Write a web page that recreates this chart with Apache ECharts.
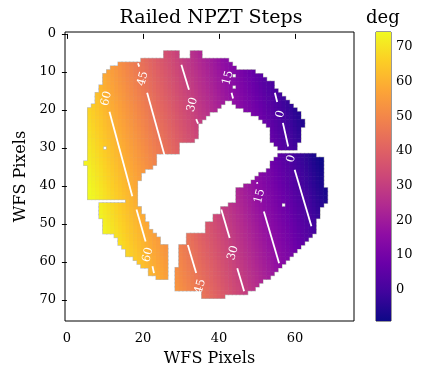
<!DOCTYPE html>
<html>
<head>
<meta charset="utf-8">
<script src="https://cdn.jsdelivr.net/npm/echarts@6/dist/echarts.min.js"></script>
<style>
  html, body { margin: 0; padding: 0; background: #fff; }
  #chart { width: 422px; height: 370px; }
</style>
</head>
<body>
<div id="chart"></div>
<script>
// valid pixels of the WFS mask: [row, firstCol, lastCol]
var maskRuns = [
  [5, 26, 29], [5, 33, 35],
  [6, 26, 29], [6, 33, 35],
  [7, 20, 42], [8, 14, 43], [9, 12, 44], [10, 11, 49],
  [11, 10, 51], [12, 10, 52], [13, 10, 54], [14, 9, 54],
  [15, 9, 55], [16, 8, 56], [17, 8, 57],
  [18, 8, 41], [18, 44, 58],
  [19, 7, 40], [19, 45, 59],
  [20, 6, 39], [20, 47, 60],
  [21, 6, 37], [21, 49, 61],
  [22, 6, 36], [22, 51, 61],
  [23, 6, 35], [23, 52, 62],
  [24, 6, 34], [24, 53, 62],
  [25, 6, 34], [25, 54, 61],
  [26, 6, 34], [26, 54, 61],
  [27, 6, 34], [27, 54, 61],
  [28, 6, 33], [28, 54, 61],
  [29, 6, 29], [29, 55, 60],
  [30, 6, 29], [30, 56, 60],
  [31, 6, 29],
  [32, 6, 23], [32, 56, 65],
  [33, 6, 23], [33, 55, 67],
  [34, 5, 23], [34, 54, 67],
  [35, 6, 22], [35, 54, 67],
  [36, 6, 20], [36, 53, 67],
  [37, 6, 19], [37, 51, 67],
  [38, 6, 19], [38, 50, 67],
  [39, 6, 18], [39, 49, 67],
  [40, 6, 18], [40, 47, 67],
  [41, 6, 18], [41, 45, 68],
  [42, 6, 18], [42, 45, 68],
  [43, 6, 18], [43, 45, 68],
  [44, 16, 18], [44, 45, 68],
  [45, 9, 18], [45, 43, 67],
  [46, 9, 19], [46, 41, 66],
  [47, 9, 19], [47, 41, 66],
  [48, 9, 20], [48, 39, 66],
  [49, 10, 20], [49, 39, 65],
  [50, 10, 21], [50, 37, 65],
  [51, 10, 21], [51, 37, 65],
  [52, 10, 22], [52, 37, 65],
  [53, 13, 23], [53, 32, 64],
  [54, 14, 24], [54, 32, 63],
  [55, 14, 24], [55, 32, 62],
  [56, 15, 26], [56, 30, 61],
  [57, 16, 26], [57, 30, 60],
  [58, 16, 26], [58, 30, 59],
  [59, 18, 26], [59, 30, 58],
  [60, 19, 26], [60, 30, 57],
  [61, 20, 26], [61, 30, 56],
  [62, 22, 26], [62, 29, 55],
  [63, 22, 26], [63, 29, 54],
  [64, 24, 26], [64, 29, 53],
  [65, 29, 51], [66, 29, 50], [67, 29, 49],
  [68, 36, 47], [69, 36, 41]
];
// dead pixels inside the mask: [col, row]
var maskHoles = [[44, 11], [44, 14], [10, 30], [57, 45]];

// step value (deg) along the top row, per column
var colValues = [
  67.6, 66.3, 65.0, 63.7, 62.3, 61.0, 59.7, 58.4, 57.1, 55.8,
  54.4, 53.1, 51.8, 50.5, 49.2, 47.9, 46.5, 45.2, 43.9, 42.6,
  41.3, 40.0, 38.6, 37.3, 36.0, 34.7, 33.4, 32.1, 30.8, 29.4,
  28.1, 26.8, 25.5, 24.2, 22.9, 21.5, 20.2, 18.9, 17.6, 16.3,
  15.0, 13.6, 12.3, 11.0, 9.7, 8.4, 7.1, 5.7, 4.4, 3.1,
  1.8, 0.5, -0.8, -2.1, -3.5, -4.8, -6.1, -7.4, -8.7, -10.0,
  -11.4, -12.7, -14.0, -15.3, -16.6, -17.9, -19.3, -20.6, -21.9
];
// extra step (deg) per row
var rowOffsets = [
  0.0, 0.4, 0.7, 1.1, 1.4, 1.8, 2.1, 2.5, 2.8, 3.2,
  3.6, 3.9, 4.3, 4.6, 5.0, 5.3, 5.7, 6.1, 6.4, 6.8,
  7.1, 7.5, 7.8, 8.2, 8.5, 8.9, 9.3, 9.6, 10.0, 10.3,
  10.7, 11.0, 11.4, 11.7, 12.1, 12.5, 12.8, 13.2, 13.5, 13.9,
  14.2, 14.6, 15.0, 15.3, 15.7, 16.0, 16.4, 16.7, 17.1, 17.4,
  17.8, 18.2, 18.5, 18.9, 19.2, 19.6, 19.9, 20.3, 20.6, 21.0,
  21.4, 21.7, 22.1, 22.4, 22.8, 23.1, 23.5, 23.9, 24.2, 24.6
];

// contour pieces [x1, y1, x2, y2] (pixels) and inline labels [x, y, level]
var contourSegments = [
  [11.2, 20.5, 17.2, 42.7], [18.3, 46.2, 20.7, 54.6], [22.5, 61.1, 22.9, 62.9],
  [18.7, 7.7, 19.0, 8.6], [21.1, 15.5, 26.0, 33.1], [31.8, 55.5, 34.0, 62.9],
  [30.1, 8.1, 32.1, 14.7], [34.0, 22.4, 34.5, 23.6], [40.6, 46.2, 42.8, 53.7], [44.8, 61.6, 46.6, 67.7],
  [43.3, 15.5, 43.7, 17.0], [50.0, 39.0, 50.1, 39.4], [51.8, 46.7, 55.8, 60.3],
  [54.7, 15.5, 55.3, 17.9], [56.8, 23.4, 58.2, 29.6], [59.9, 35.7, 64.3, 50.6]
];
var contourLabels = [
  [10.4, 17.0, 60], [21.3, 58.1, 60],
  [20.0, 11.8, 45], [35.1, 66.4, 45],
  [33.0, 18.6, 30], [43.7, 57.6, 30],
  [42.4, 11.6, 15], [50.7, 42.7, 15],
  [56.2, 21.1, 0], [59.0, 32.8, 0]
];

var xTicks = [0, 20, 40, 60];
var yTicks = [0, 10, 20, 30, 40, 50, 60, 70];
var cbarTicks = [0, 10, 20, 30, 40, 50, 60, 70];
var cbarRange = [-9, 74.3];

var plasma = ['#0d0887', '#41049d', '#6a00a8', '#8f0da4', '#b12a90', '#cc4778',
              '#e16462', '#f2844b', '#fca636', '#fcce25', '#f0f921'];

var FONT = 'DejaVu Serif';

var holeKey = {};
maskHoles.forEach(function (h) { holeKey[h[0] + ',' + h[1]] = true; });
var cells = [];
maskRuns.forEach(function (run) {
    for (var c = run[1]; c <= run[2]; c++) {
        if (holeKey[c + ',' + run[0]]) continue;
        cells.push([c, run[0], +(colValues[c] + rowOffsets[run[0]]).toFixed(2)]);
    }
});

function cellRect(api, pad) {
    var c = api.value(0), r = api.value(1);
    var p0 = api.coord([c - 0.5, r - 0.5]);
    var p1 = api.coord([c + 0.5, r + 0.5]);
    return {
        x: Math.min(p0[0], p1[0]) - pad,
        y: Math.min(p0[1], p1[1]) - pad,
        width: Math.abs(p1[0] - p0[0]) + 2 * pad,
        height: Math.abs(p1[1] - p0[1]) + 2 * pad
    };
}

var myChart = echarts.init(document.getElementById('chart'));

var option = {
    animation: false,
    backgroundColor: '#fff',
    textStyle: { fontFamily: FONT, color: '#000' },
    title: [
        { text: 'Railed NPZT Steps', left: 'center', top: 4,
          textStyle: { fontFamily: FONT, fontSize: 19, fontWeight: 'normal', color: '#000' } },
        { text: 'deg', left: 361, top: 4,
          textStyle: { fontFamily: FONT, fontSize: 18, fontWeight: 'normal', color: '#000' } }
    ],
    grid: [
        { left: 65, top: 32, width: 289, height: 289, show: true, borderColor: '#000', borderWidth: 1,
          outerBoundsMode: 'none' },
        { left: 376, top: 32, width: 15, height: 289, show: true, borderColor: '#000', borderWidth: 0.8,
          outerBoundsMode: 'none' }
    ],
    xAxis: [
        {
            gridIndex: 0, type: 'value', min: -0.5, max: 75.5,
            name: 'WFS Pixels', nameLocation: 'middle', nameGap: 30,
            nameTextStyle: { fontFamily: FONT, fontSize: 16, color: '#000' },
            axisLine: { show: false },
            axisTick: { show: true, length: 5, customValues: xTicks, lineStyle: { color: '#000' } },
            axisLabel: { customValues: xTicks, fontFamily: FONT, fontSize: 13, color: '#000', margin: 11 },
            splitLine: { show: false }
        },
        { gridIndex: 1, type: 'value', min: 0, max: 1, show: false }
    ],
    yAxis: [
        {
            gridIndex: 0, type: 'value', min: -0.5, max: 75.5, inverse: true,
            name: 'WFS Pixels', nameLocation: 'middle', nameGap: 36,
            nameTextStyle: { fontFamily: FONT, fontSize: 16, color: '#000' },
            axisLine: { show: false },
            axisTick: { show: true, length: 5, customValues: yTicks, lineStyle: { color: '#000' } },
            axisLabel: { customValues: yTicks, fontFamily: FONT, fontSize: 13, color: '#000', margin: 9 },
            splitLine: { show: false }
        },
        {
            gridIndex: 1, type: 'value', position: 'right', min: cbarRange[0], max: cbarRange[1],
            axisLine: { show: false },
            axisTick: { show: true, length: 4, customValues: cbarTicks, lineStyle: { color: '#000' } },
            axisLabel: { customValues: cbarTicks, fontFamily: FONT, fontSize: 13, color: '#000', margin: 5 },
            splitLine: { show: false }
        }
    ],
    visualMap: {
        type: 'continuous', show: false, seriesIndex: 1, dimension: 2,
        min: cbarRange[0], max: cbarRange[1],
        inRange: { color: plasma }
    },
    series: [
        {
            // faint grey rim round the mask
            type: 'custom', xAxisIndex: 0, yAxisIndex: 0, data: cells, z: 1,
            renderItem: function (params, api) {
                return { type: 'rect', shape: cellRect(api, 0.8), style: { fill: '#bdbdbd' } };
            }
        },
        {
            type: 'custom', xAxisIndex: 0, yAxisIndex: 0, data: cells, z: 2,
            renderItem: function (params, api) {
                return { type: 'rect', shape: cellRect(api, 0.25), style: { fill: api.visual('color') } };
            }
        },
        {
            type: 'custom', xAxisIndex: 0, yAxisIndex: 0, data: contourSegments, z: 3,
            renderItem: function (params, api) {
                var a = api.coord([api.value(0), api.value(1)]);
                var b = api.coord([api.value(2), api.value(3)]);
                return { type: 'line', shape: { x1: a[0], y1: a[1], x2: b[0], y2: b[1] },
                         style: { stroke: '#fff', lineWidth: 1.8 } };
            }
        },
        {
            type: 'custom', xAxisIndex: 0, yAxisIndex: 0, data: contourLabels, z: 4,
            renderItem: function (params, api) {
                var p = api.coord([api.value(0), api.value(1)]);
                return { type: 'text', x: p[0], y: p[1], rotation: 75 * Math.PI / 180,
                         style: { text: String(api.value(2)), fill: '#fff',
                                  font: '11.5px "' + FONT + '"', align: 'center', verticalAlign: 'middle' } };
            }
        },
        {
            // colour bar
            type: 'custom', xAxisIndex: 1, yAxisIndex: 1, data: [[0, cbarRange[0], 1, cbarRange[1]]],
            renderItem: function (params, api) {
                var a = api.coord([api.value(0), api.value(1)]);
                var b = api.coord([api.value(2), api.value(3)]);
                var stops = plasma.map(function (c, i) { return { offset: i / (plasma.length - 1), color: c }; });
                return { type: 'rect',
                         shape: { x: a[0], y: b[1], width: b[0] - a[0], height: a[1] - b[1] },
                         style: { fill: new echarts.graphic.LinearGradient(0, 1, 0, 0, stops) } };
            }
        }
    ]
};

myChart.setOption(option);
window.addEventListener('resize', function () {
    myChart.resize();
});
</script>
</body>
</html>
